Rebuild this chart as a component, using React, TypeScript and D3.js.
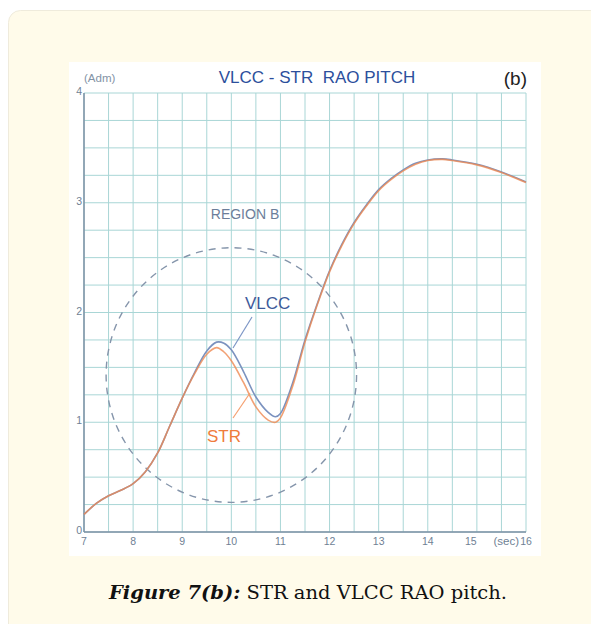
import React from "react";
import * as d3 from "d3";

// period (sec)
const periods = [7, 7.25, 7.5, 7.75, 8, 8.25, 8.5, 8.75, 9, 9.25, 9.5, 9.7, 9.85, 10, 10.25, 10.5, 10.75, 10.9, 11, 11.25, 11.5, 11.75, 12, 12.25, 12.5, 12.75, 13, 13.25, 13.5, 13.75, 14, 14.3, 14.5, 15, 15.5, 16];

// RAO pitch (Adm)
const vlcc = [0.16, 0.26, 0.33, 0.38, 0.44, 0.55, 0.72, 0.97, 1.22, 1.45, 1.65, 1.73, 1.72, 1.66, 1.46, 1.23, 1.09, 1.05, 1.08, 1.36, 1.75, 2.08, 2.38, 2.62, 2.82, 2.98, 3.12, 3.22, 3.30, 3.36, 3.39, 3.40, 3.39, 3.35, 3.28, 3.19];
const str = [0.16, 0.26, 0.33, 0.38, 0.44, 0.55, 0.72, 0.97, 1.22, 1.44, 1.62, 1.68, 1.64, 1.56, 1.36, 1.14, 1.02, 1.0, 1.04, 1.33, 1.73, 2.07, 2.37, 2.61, 2.81, 2.97, 3.11, 3.21, 3.29, 3.35, 3.385, 3.395, 3.385, 3.345, 3.275, 3.185];

const xTicks = [7, 8, 9, 10, 11, 12, 13, 14, 15, 16];
const yTicks = [0, 1, 2, 3, 4];

// dashed "region B" ellipse, data units
const regionCenter = [10.0, 1.43];
const regionRadius = [2.55, 1.16];

export default function App() {
  const x = d3.scaleLinear().domain([7, 16]).range([84, 526]);
  const y = d3.scaleLinear().domain([0, 4]).range([532, 93]);

  const line = d3
    .line<number>()
    .x((_, i) => x(periods[i]))
    .y((d) => y(d))
    .curve(d3.curveCatmullRom.alpha(0.5));

  const gridX = d3.range(7, 16.01, 0.5);
  const gridY = d3.range(0, 4.01, 0.25);
  const sans = "Liberation Sans, Arial, sans-serif";

  return (
    <svg width={591} height={624} style={{ position: "absolute", left: 0, top: 0 }}>
      <rect x={0} y={0} width={591} height={624} fill="#fff" />
      <rect x={8.5} y={10.5} width={620} height={660} rx={12} fill="#fffbea" stroke="#efebdc" />
      <rect x={69} y={62} width={472} height={494} fill="#fff" />

      {/* grid */}
      <g stroke="#a9d6d6" strokeWidth={1}>
        {gridX.map((t) => (
          <line key={"gx" + t} x1={x(t)} x2={x(t)} y1={y(4)} y2={y(0)} />
        ))}
        {gridY.map((v) => (
          <line key={"gy" + v} x1={x(7)} x2={x(16)} y1={y(v)} y2={y(v)} />
        ))}
      </g>

      {/* axes */}
      <g stroke="#7d90a4" strokeWidth={1.5}>
        <line x1={x(7)} x2={x(7)} y1={y(4)} y2={y(0)} />
        <line x1={x(7)} x2={x(16)} y1={y(0)} y2={y(0)} />
      </g>
      <g fill="#6f7f94" fontFamily={sans} fontSize={10.5}>
        {yTicks.map((v) => (
          <text key={"yt" + v} x={x(7) - 2} y={y(v) + 2} textAnchor="end">
            {v}
          </text>
        ))}
        {xTicks.map((t) => (
          <text key={"xt" + t} x={x(t) + (t === 15 ? -6 : 0)} y={y(0) + 13} textAnchor="middle">
            {t}
          </text>
        ))}
        <text x={x(16) - 7} y={y(0) + 13} textAnchor="end" fontSize={11.5}>
          (sec)
        </text>
        <text x={84} y={82} fontSize={11.5} fill="#8393a6">
          (Adm)
        </text>
      </g>

      {/* titles */}
      <text x={317} y={83} textAnchor="middle" fontFamily={sans} fontSize={17} fill="#2c4f9c">
        VLCC - STR{"\u00a0\u00a0"}RAO PITCH
      </text>
      <text x={527} y={85} textAnchor="end" fontFamily={sans} fontSize={19} fill="#222">
        (b)
      </text>

      {/* region B */}
      <ellipse
        cx={x(regionCenter[0])}
        cy={y(regionCenter[1])}
        rx={x(regionCenter[0] + regionRadius[0]) - x(regionCenter[0])}
        ry={y(regionCenter[1]) - y(regionCenter[1] + regionRadius[1])}
        fill="none"
        stroke="#8595ab"
        strokeWidth={1.4}
        strokeDasharray="7,6"
      />
      <text x={245} y={219} textAnchor="middle" fontFamily={sans} fontSize={14} fill="#6c7e9a">
        REGION B
      </text>

      {/* curves */}
      <path d={line(vlcc) || ""} fill="none" stroke="#7b92bf" strokeWidth={1.6} />
      <path d={line(str) || ""} fill="none" stroke="#ef8a52" strokeWidth={1.6} strokeOpacity={0.8} />

      {/* labels */}
      <line x1={252} y1={317} x2={233} y2={348} stroke="#7d96c6" strokeWidth={1.2} />
      <text x={245} y={309} fontFamily={sans} fontSize={17} fill="#3d5a9a">
        VLCC
      </text>
      <line x1={233} y1={418} x2={250} y2={393} stroke="#f5a070" strokeWidth={1.2} />
      <text x={207} y={442} fontFamily={sans} fontSize={17} fill="#ef7c3c">
        STR
      </text>

      {/* caption */}
      <text x={109} y={599} fontFamily="DejaVu Serif, serif" fontSize={19} fill="#111" textLength={398} lengthAdjust="spacingAndGlyphs">
        <tspan fontWeight="bold" fontStyle="italic">Figure 7(b):</tspan>
        <tspan> STR and VLCC RAO pitch.</tspan>
      </text>
    </svg>
  );
}
